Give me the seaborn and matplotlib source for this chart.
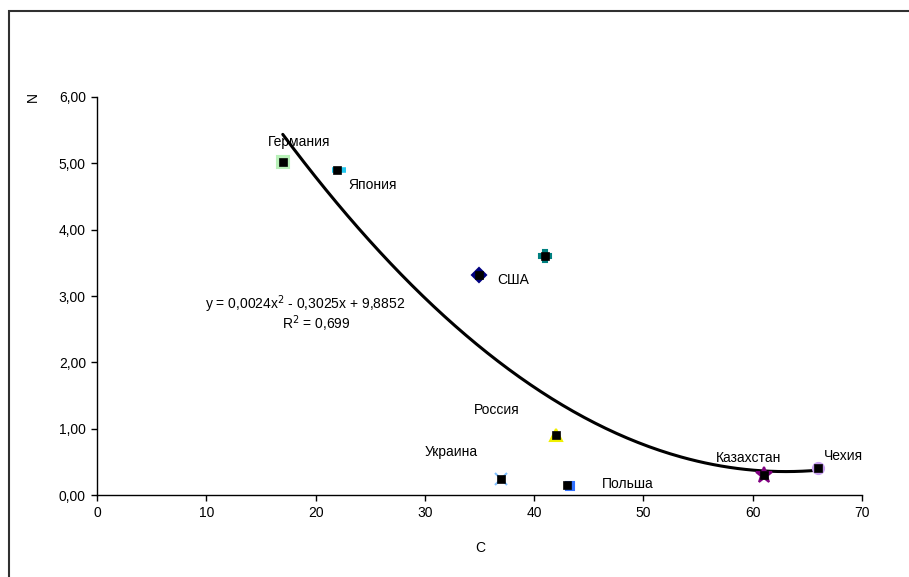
import numpy as np
import matplotlib
matplotlib.use("Agg")
import matplotlib.pyplot as plt
import matplotlib.transforms as mtransforms
from matplotlib.patches import Rectangle
import seaborn as sns

# data
countries = ["Германия", "Япония", "США", "", "Россия", "Украина", "Польша", "Казахстан", "Чехия"]
c_values = [17, 22, 35, 41, 42, 37, 43, 61, 66]
n_values = [5.02, 4.90, 3.31, 3.60, 0.90, 0.24, 0.15, 0.30, 0.40]
under_colors = ["#b8f0b8", "#22c8f0", "#000080", "#008080", "#f0f000", "#80c0ff", "#3070ff", "#800080", "#c8a0f0"]
under_markers = ["s", "_", "D", "P", "^", "x", "s", "*", "o"]

# polynomial trendline (Excel): y = 0,0024x^2 - 0,3025x + 9,8852
trend_coef = [0.0024, -0.3025, 9.8852]
trend_range = [17, 66]

label_pos = {
    "Германия": (15.6, 5.32),
    "Япония": (23.0, 4.67),
    "США": (36.6, 3.24),
    "Россия": (34.5, 1.28),
    "Украина": (30.0, 0.65),
    "Польша": (46.2, 0.17),
    "Казахстан": (56.6, 0.56),
    "Чехия": (66.5, 0.59),
}

sns.set_style("white")
plt.rcParams["font.family"] = ["Liberation Sans", "DejaVu Sans"]
plt.rcParams["text.color"] = "black"
plt.rcParams["axes.labelcolor"] = "black"

fig = plt.figure(figsize=(9.09, 5.77), dpi=100)
ax = fig.add_axes([0.1067, 0.1421, 0.8416, 0.6898])

# outer chart border (only top/left visible)
fig.patches.append(Rectangle((8.5 / 909, -0.1), 1.2, 1 - 10.5 / 577 + 0.1, transform=fig.transFigure,
                             fill=False, edgecolor="#303030", linewidth=1.5))

xs = np.linspace(trend_range[0], trend_range[1], 200)
ys = np.polyval(trend_coef, xs)
sns.lineplot(x=xs, y=ys, color="black", linewidth=2.2, ax=ax, zorder=2)

# coloured markers behind the black squares
for i in range(len(c_values)):
    offset = mtransforms.ScaledTranslation(0, 0, fig.dpi_scale_trans)
    if countries[i] == "Польша":
        offset = mtransforms.ScaledTranslation(3 / 100, -1 / 100, fig.dpi_scale_trans)
    if countries[i] == "Япония":
        offset = mtransforms.ScaledTranslation(2 / 100, 0, fig.dpi_scale_trans)
    mk = under_markers[i]
    ms = 8
    lw = 1.5
    if mk == "_":
        ms, lw = 10, 4
    if mk == "D":
        ms = 7
    if mk == "*":
        ms = 12
    if mk == "s" and countries[i] == "Польша":
        ms = 6
    ax.plot(c_values[i], n_values[i], marker=mk, markersize=ms, color=under_colors[i],
            markeredgewidth=lw, linestyle="none", transform=ax.transData + offset, zorder=3)

sns.scatterplot(x=c_values, y=n_values, marker="s", color="black", s=36, edgecolor="black", ax=ax, zorder=4)

for name, (tx, ty) in label_pos.items():
    ax.text(tx, ty, name, fontsize=10, va="center", ha="left")

ax.text(9.9, 2.88, "y = 0,0024x$^2$ - 0,3025x + 9,8852", fontsize=10, va="center", ha="left")
ax.text(16.9, 2.58, "R$^2$ = 0,699", fontsize=10, va="center", ha="left")

ax.set_xlim(0, 70)
ax.set_ylim(0, 6)
ax.set_xticks(range(0, 71, 10))
ax.set_yticks(range(0, 7))
ax.set_yticklabels([f"{v},00" for v in range(0, 7)])
ax.tick_params(axis="both", direction="out", length=4, width=1, labelsize=10, pad=4,
               bottom=True, left=True, colors="black")
for side in ["top", "right"]:
    ax.spines[side].set_visible(False)
for side in ["left", "bottom"]:
    ax.spines[side].set_color("black")
    ax.spines[side].set_linewidth(1)

fig.text(480 / 909, 1 - 548 / 577, "C", fontsize=10, ha="center", va="center")
fig.text(33 / 909, 1 - 97 / 577, "N", fontsize=10, ha="center", va="center", rotation=90)

fig.savefig("out.png", dpi=100)
